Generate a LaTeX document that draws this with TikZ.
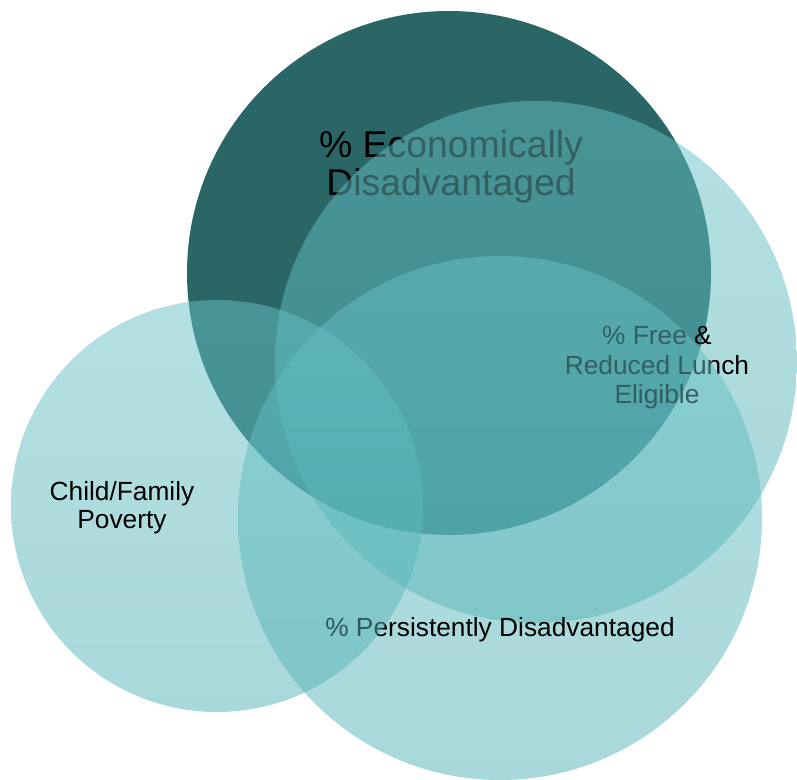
\documentclass[tikz,border=0pt]{standalone}
\usepackage{fontspec}
\setmainfont{Liberation Sans}
\definecolor{econdark}{RGB}{42,102,102}
\definecolor{tealtop}{RGB}{104,193,197}
\definecolor{tealbot}{RGB}{84,178,182}
\tikzset{
  ring/.style={top color=tealtop, bottom color=tealbot, fill opacity=0.5},
  lbl/.style={align=center, inner sep=0pt, text=black}
}
\begin{document}
\begin{tikzpicture}[x=1pt, y=-1pt]
  \useasboundingbox (0,0) rectangle (797,779);
  % economically disadvantaged
  \fill[econdark] (449,273) circle (262);
  \node[lbl, font=\fontsize{37.4}{38}\selectfont] (econ) at (451,167) {\% Economically\\Disadvantaged};
  % free and reduced lunch
  \shade[ring] (536,362) circle (261);
  \node[lbl, font=\fontsize{26.3}{29.5}\selectfont] (lunch) at (657,368) {\% Free \&\\Reduced Lunch\\Eligible};
  % persistently disadvantaged
  \shade[ring] (500,518) circle (262);
  \node[lbl, font=\fontsize{26.3}{29}\selectfont] (persist) at (500,630) {\% Persistently Disadvantaged};
  % child poverty
  \shade[ring] (217,506) circle (206);
  \node[lbl, font=\fontsize{26.3}{28}\selectfont] (child) at (122,508) {Child/Family\\Poverty};
\end{tikzpicture}
\end{document}
